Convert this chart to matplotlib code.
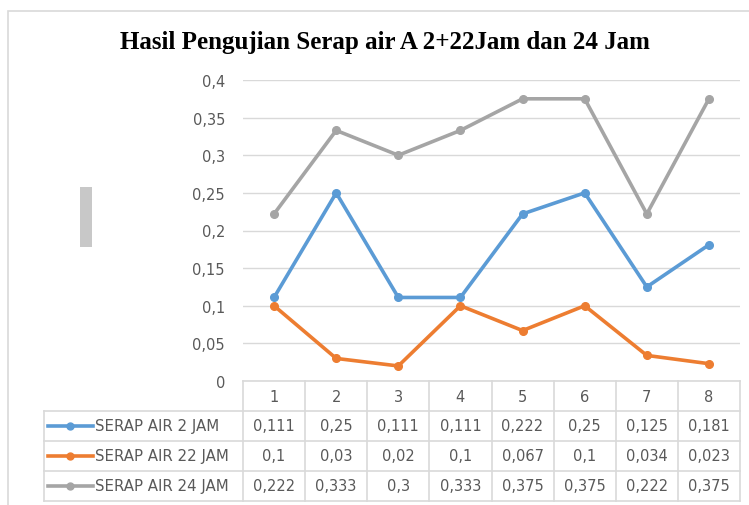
import matplotlib.pyplot as plt
from matplotlib.patches import Rectangle
from matplotlib.lines import Line2D

# data
categories = ["1", "2", "3", "4", "5", "6", "7", "8"]
series_names = ["SERAP AIR 2 JAM", "SERAP AIR 22 JAM", "SERAP AIR 24 JAM"]
air_2 = [0.111, 0.25, 0.111, 0.111, 0.222, 0.25, 0.125, 0.181]
air_22 = [0.1, 0.03, 0.02, 0.1, 0.067, 0.1, 0.034, 0.023]
air_24 = [0.222, 0.333, 0.3, 0.333, 0.375, 0.375, 0.222, 0.375]
yticks = [0, 0.05, 0.1, 0.15, 0.2, 0.25, 0.3, 0.35, 0.4]
colors = ["#5B9BD5", "#ED7D31", "#A5A5A5"]

W, H = 749, 506
fig = plt.figure(figsize=(W / 100, H / 100), dpi=100)

def fx(px):
    return px / W

def fy(py):
    return 1 - py / H

label_font = "DejaVu Sans"
txt_col = "#595959"
grid_col = "#d9d9d9"

# outer chart border
fig.patches.append(Rectangle((fx(8), fy(520)), fx(760) - fx(8), fy(12) - fy(520),
                             transform=fig.transFigure, fill=False,
                             edgecolor="#d9d9d9", lw=1.2))

# stray grey bar
fig.patches.append(Rectangle((fx(80), fy(248)), fx(92) - fx(80), fy(188) - fy(248),
                             transform=fig.transFigure, facecolor="#c8c8c8",
                             edgecolor="none"))

fig.text(fx(385), fy(43), "Hasil Pengujian Serap air A 2+22Jam dan 24 Jam",
         ha="center", va="center", fontsize=18, fontweight="bold",
         family="Liberation Serif", color="#000000")

# plot area
x0, x1 = 243, 740
ax = fig.add_axes([fx(x0), fy(382), fx(x1) - fx(x0), fy(81) - fy(382)])
ax.set_xlim(0.5, len(categories) + 0.5)
ax.set_ylim(0, 0.4)
for s in ax.spines.values():
    s.set_visible(False)
ax.set_xticks([])
ax.set_yticks(yticks)
ax.set_yticklabels([("%g" % v).replace(".", ",") for v in yticks],
                   fontsize=10.5, color=txt_col, family=label_font)
ax.tick_params(axis="y", length=0, pad=13)
ax.grid(axis="y", color=grid_col, lw=1)
ax.set_axisbelow(True)

xs = list(range(1, len(categories) + 1))
for vals, c in zip([air_2, air_22, air_24], colors):
    ax.plot(xs, vals, color=c, lw=2.6, marker="o", markersize=5.5, clip_on=False)

# data table
col_w = (x1 - x0) / len(categories)
row_tops = [382, 412, 442, 472, 502]
tl = dict(transform=fig.transFigure, color=grid_col, lw=1.2)
fig.add_artist(Line2D([fx(x0), fx(x1)], [fy(382), fy(382)], **tl))
for r in row_tops[1:]:
    fig.add_artist(Line2D([fx(44), fx(x1)], [fy(r), fy(r)], **tl))
for i in range(len(categories) + 1):
    xx = x0 + i * col_w
    fig.add_artist(Line2D([fx(xx), fx(xx)], [fy(382), fy(502)], **tl))
fig.add_artist(Line2D([fx(44), fx(44)], [fy(412), fy(502)], **tl))

for i, c in enumerate(categories):
    fig.text(fx(x0 + (i + 0.5) * col_w), fy(397), c, ha="center", va="center",
             fontsize=10.5, color=txt_col, family=label_font)

for r, (name, vals, c) in enumerate(zip(series_names, [air_2, air_22, air_24], colors)):
    yc = (row_tops[r + 1] + row_tops[r + 2]) / 2
    fig.add_artist(Line2D([fx(48), fx(93)], [fy(yc), fy(yc)], transform=fig.transFigure,
                          color=c, lw=2.6))
    fig.add_artist(Line2D([fx(70)], [fy(yc)], transform=fig.transFigure, color=c,
                          marker="o", markersize=5))
    fig.text(fx(95), fy(yc), name, ha="left", va="center", fontsize=10.8,
             color=txt_col, family=label_font)
    for i, v in enumerate(vals):
        fig.text(fx(x0 + (i + 0.5) * col_w), fy(yc), ("%g" % v).replace(".", ","),
                 ha="center", va="center", fontsize=10.5, color=txt_col,
                 family=label_font)

fig.savefig("out.png", dpi=100)
